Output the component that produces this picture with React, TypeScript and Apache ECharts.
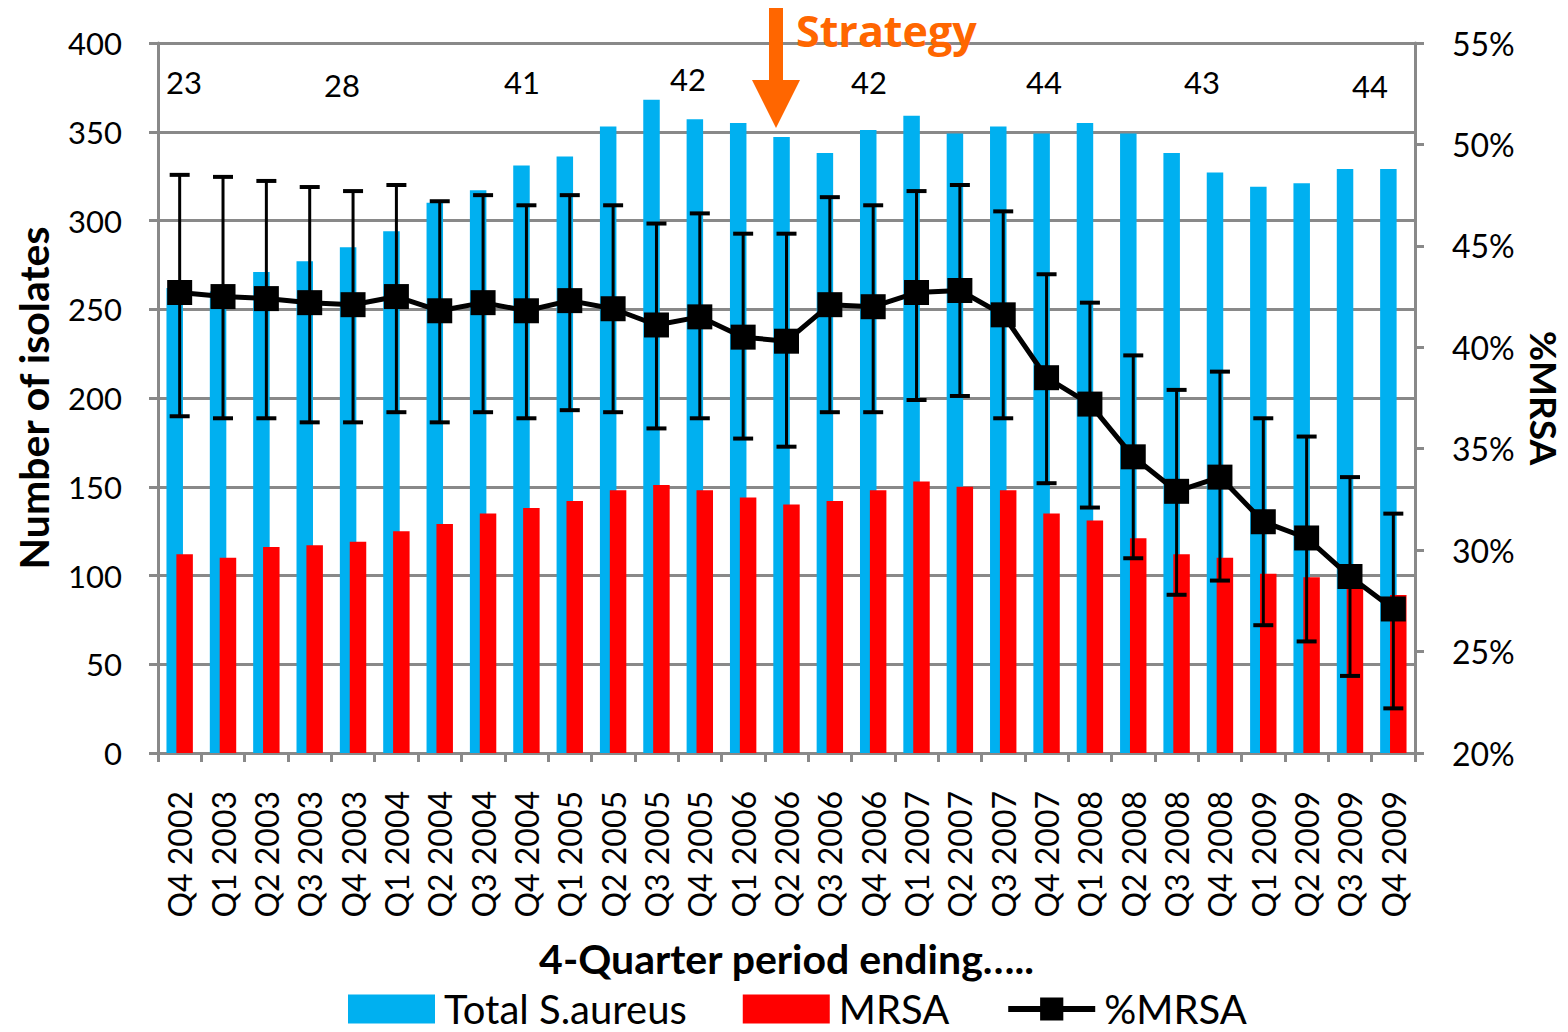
import React, { useEffect, useRef } from "react";
import * as echarts from "echarts";

const categories = [
  "Q4 2002",
  "Q1 2003", "Q2 2003", "Q3 2003", "Q4 2003",
  "Q1 2004", "Q2 2004", "Q3 2004", "Q4 2004",
  "Q1 2005", "Q2 2005", "Q3 2005", "Q4 2005",
  "Q1 2006", "Q2 2006", "Q3 2006", "Q4 2006",
  "Q1 2007", "Q2 2007", "Q3 2007", "Q4 2007",
  "Q1 2008", "Q2 2008", "Q3 2008", "Q4 2008",
  "Q1 2009", "Q2 2009", "Q3 2009", "Q4 2009",
];

const totalSaureus = [262, 260, 271, 277, 285, 294, 310, 317, 331, 336, 353, 368, 357, 355, 347, 338, 351, 359, 349, 353, 349, 355, 349, 338, 327, 319, 321, 329, 329];
const mrsaCount = [112, 110, 116, 117, 119, 125, 129, 135, 138, 142, 148, 151, 148, 144, 140, 142, 148, 153, 150, 148, 135, 131, 121, 112, 110, 101, 99, 95, 89];
const pctMrsa = [42.7, 42.5, 42.4, 42.2, 42.1, 42.5, 41.8, 42.2, 41.8, 42.3, 41.9, 41.1, 41.5, 40.5, 40.3, 42.1, 42.0, 42.7, 42.8, 41.6, 38.5, 37.2, 34.6, 32.9, 33.6, 31.4, 30.6, 28.7, 27.1];
const ciHigh = [48.5, 48.4, 48.2, 47.9, 47.7, 48.0, 47.2, 47.5, 47.0, 47.5, 47.0, 46.1, 46.6, 45.6, 45.6, 47.4, 47.0, 47.7, 48.0, 46.7, 43.6, 42.2, 39.6, 37.9, 38.8, 36.5, 35.6, 33.6, 31.8];
const ciLow = [36.6, 36.5, 36.5, 36.3, 36.3, 36.8, 36.3, 36.8, 36.5, 36.9, 36.8, 36.0, 36.5, 35.5, 35.1, 36.8, 36.8, 37.4, 37.6, 36.5, 33.3, 32.1, 29.6, 27.8, 28.5, 26.3, 25.5, 23.8, 22.2];

const leftTicks = { min: 0, max: 400, interval: 50 };
const rightTicks = { min: 20, max: 55, interval: 5 };

const labCounts = ["23", "28", "41", "42", "42", "44", "43", "44"];
const labCountX = [184, 342, 522, 688, 869, 1044, 1202, 1370];
const labCountY = [82, 85, 82, 79, 82, 82, 82, 86];

const FONT = "Lato, 'Noto Sans', sans-serif";
const GRAY = "#898989";
const BLUE = "#00B0F0";
const RED = "#FF0000";
const ORANGE = "#FF6600";

export default function App() {
  const ref = useRef<HTMLDivElement>(null);

  useEffect(() => {
    if (!ref.current) return;
    document.body.style.margin = "0";
    document.body.style.overflow = "hidden";
    document.documentElement.style.overflow = "hidden";
    const chart = echarts.init(ref.current, undefined, { renderer: "svg", width: 1568, height: 1032 });

    const errData = categories.map((_, i) => [i, ciLow[i], ciHigh[i]]);

    const option: any = {
      animation: false,
      backgroundColor: "#ffffff",
      textStyle: { fontFamily: FONT },
      grid: {
        left: 158,
        top: 43,
        right: 153,
        bottom: 279,
        containLabel: false,
        outerBoundsMode: "none",
      },
      legend: {
        bottom: -2,
        left: 343,
        itemWidth: 87,
        itemHeight: 29,
        itemGap: 56,
        textStyle: { fontFamily: FONT, fontSize: 40, lineHeight: 40, color: "#000", padding: [0, 0, 0, 4] },
        data: [
          { name: "Total S.aureus", icon: "rect" },
          { name: "MRSA", icon: "rect" },
          { name: "%MRSA", lineStyle: { width: 6, color: "#000" } },
        ],
      },
      xAxis: {
        type: "category",
        data: categories,
        boundaryGap: true,
        name: "4-Quarter period ending…..",
        nameLocation: "middle",
        nameGap: 185,
        nameTextStyle: { fontFamily: FONT, fontSize: 41, fontWeight: "bold", color: "#000" },
        axisLine: { lineStyle: { color: GRAY, width: 3 } },
        axisTick: { show: true, interval: 0, alignWithLabel: false, length: 9, lineStyle: { color: GRAY, width: 3 } },
        axisLabel: { interval: 0, rotate: 90, margin: 38, fontFamily: FONT, fontSize: 32, color: "#000" },
        splitLine: { show: false },
      },
      yAxis: [
        {
          type: "value",
          ...leftTicks,
          name: "Number of isolates",
          nameLocation: "middle",
          nameRotate: 90,
          nameGap: 104,
          nameTextStyle: { fontFamily: FONT, fontSize: 41, fontWeight: "bold", color: "#000" },
          axisLine: { show: true, lineStyle: { color: GRAY, width: 3 } },
          axisTick: { show: true, length: 9, lineStyle: { color: GRAY, width: 3 } },
          axisLabel: { margin: 36, fontFamily: FONT, fontSize: 31, color: "#000" },
          splitLine: { show: true, lineStyle: { color: GRAY, width: 3 } },
        },
        {
          type: "value",
          ...rightTicks,
          position: "right",
          name: "%MRSA",
          nameLocation: "middle",
          nameRotate: -90,
          nameGap: 111,
          nameTextStyle: { fontFamily: FONT, fontSize: 37, lineHeight: 37, fontWeight: "bold", color: "#000" },
          axisLine: { show: true, lineStyle: { color: GRAY, width: 3 } },
          axisTick: { show: true, length: 9, lineStyle: { color: GRAY, width: 3 } },
          axisLabel: { margin: 37, fontFamily: FONT, fontSize: 32, color: "#000", formatter: "{value}%" },
          splitLine: { show: false },
        },
      ],
      series: [
        {
          name: "Total S.aureus",
          type: "bar",
          data: totalSaureus,
          yAxisIndex: 0,
          barWidth: 16.5,
          barGap: "-40%",
          itemStyle: { color: BLUE },
          z: 2,
        },
        {
          name: "MRSA",
          type: "bar",
          data: mrsaCount,
          yAxisIndex: 0,
          barWidth: 16.5,
          barGap: "-40%",
          itemStyle: { color: RED },
          z: 3,
        },
        {
          name: "%MRSA",
          type: "line",
          data: pctMrsa,
          yAxisIndex: 1,
          symbol: "rect",
          symbolSize: 25,
          lineStyle: { color: "#000", width: 5 },
          itemStyle: { color: "#000" },
          z: 5,
        },
        {
          name: "95% CI",
          type: "custom",
          yAxisIndex: 1,
          data: errData,
          encode: { x: 0, y: [1, 2] },
          z: 6,
          renderItem: (params: any, api: any) => {
            const x = api.value(0);
            const lo = api.coord([x, api.value(1)]);
            const hi = api.coord([x, api.value(2)]);
            const hw = 10;
            const s = { stroke: "#000", lineWidth: 3 };
            const c = { stroke: "#000", lineWidth: 4 };
            return {
              type: "group",
              children: [
                { type: "line", shape: { x1: hi[0], y1: hi[1], x2: lo[0], y2: lo[1] }, style: s },
                { type: "line", shape: { x1: hi[0] - hw, y1: hi[1], x2: hi[0] + hw, y2: hi[1] }, style: c },
                { type: "line", shape: { x1: lo[0] - hw, y1: lo[1], x2: lo[0] + hw, y2: lo[1] }, style: c },
              ],
            };
          },
        },
      ],
      graphic: [
        ...labCounts.map((t, i) => ({
          type: "text",
          x: labCountX[i],
          y: labCountY[i],
          style: { text: t, fontFamily: FONT, fontSize: 31, fill: "#000", align: "center", verticalAlign: "middle" },
          z: 10,
        })),
        {
          type: "polygon",
          shape: {
            points: [[769, 8], [783, 8], [783, 80], [800, 80], [776, 128], [752, 80], [769, 80]],
          },
          style: { fill: ORANGE },
          z: 10,
        },
        {
          type: "text",
          x: 796,
          y: 30,
          style: { text: "Strategy", fontFamily: "'Open Sans', sans-serif", fontSize: 43, fontWeight: "bold", fill: ORANGE, align: "left", verticalAlign: "middle" },
          z: 10,
        },
      ],
    };

    chart.setOption(option);
    return () => chart.dispose();
  }, []);

  return (
    <div
      ref={ref}
      style={{ position: "fixed", left: 0, top: 0, width: 1568, height: 1032, background: "#fff", overflow: "hidden" }}
    />
  );
}
